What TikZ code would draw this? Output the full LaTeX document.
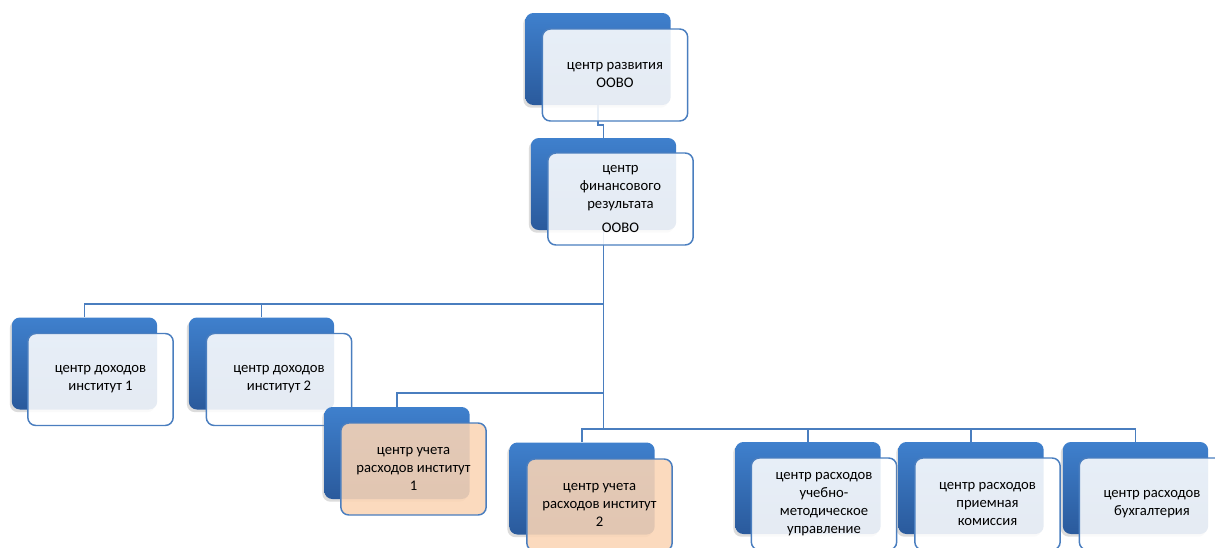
\documentclass[tikz,border=0pt]{standalone}
\usepackage{fontspec}
\setmainfont{Carlito}
\usetikzlibrary{backgrounds,shadows}
\definecolor{boxtop}{HTML}{3F80CD}
\definecolor{boxbot}{HTML}{2A5A9C}
\definecolor{edgeblue}{HTML}{4A7EBF}
\definecolor{peach}{HTML}{FBD5B5}
\tikzset{
  back/.style={rectangle, rounded corners=6pt, minimum width=109pt, minimum height=69pt,
    top color=boxtop, bottom color=boxbot, draw=none,
    drop shadow={shadow xshift=-1.5pt, shadow yshift=-2pt, fill=black!45, opacity=0.3}},
  front/.style={rectangle, rounded corners=6pt, minimum width=109pt, minimum height=69pt,
    draw=edgeblue, line width=1.1pt, fill=white, fill opacity=0.88, text opacity=1,
    align=center, font=\fontsize{11}{13.5}\selectfont, inner sep=2pt},
  cost/.style={front, fill=peach},
  conn/.style={draw=edgeblue, line width=1.2pt}
}
\begin{document}
\begin{tikzpicture}[x=0.75pt, y=-0.75pt]
    \useasboundingbox (0,0) rectangle (1215,547);
    \node[back] (razvb) at (598,59) {};
    \node[front] (razv) at (615,75) {центр развития\\ООВО};
    \node[back] (finb) at (603.5,184) {};
    \node[front] (fin) at (620.5,199) {центр\\финансового\\результата\\[4pt]ООВО};
    \node[back] (doh1b) at (84.5,363.5) {};
    \node[front] (doh1) at (100.5,379.5) {центр доходов\\институт 1};
    \node[back] (doh2b) at (261.5,363.5) {};
    \node[front] (doh2) at (279,379.5) {центр доходов\\институт 2};
    \node[back] (uch1b) at (397,453) {};
    \node[cost] (uch1) at (413.5,469) {центр учета\\расходов институт\\1};
    \node[back] (uch2b) at (582,488.5) {};
    \node[cost] (uch2) at (599.5,505) {центр учета\\расходов институт\\2};
    \node[back] (umub) at (808,488) {};
    \node[front] (umu) at (824,504) {центр расходов\\учебно-\\методическое\\управление};
    \node[back] (prkb) at (971,488) {};
    \node[front] (prk) at (987.5,504) {центр расходов\\приемная\\комиссия};
    \node[back] (buhb) at (1135.5,488) {};
    \node[front] (buh) at (1152,504) {центр расходов\\бухгалтерия};
    \coordinate (busA) at (603.5,304);
    \coordinate (busB) at (603.5,393);
    \coordinate (busC) at (603.5,429);
    \begin{scope}[on background layer]
    \draw[conn] (razvb.south) -- ++(0,20) -| (finb.north);
    \draw[conn] (finb.south) -- (busA) -| (doh1b.north);
    \draw[conn] (busA) -| (doh2b.north);
    \draw[conn] (busA) -- (busB) -| (uch1b.north);
    \draw[conn] (busB) -- (busC) -| (uch2b.north);
    \draw[conn] (busC) -| (umub.north);
    \draw[conn] (busC) -| (prkb.north);
    \draw[conn] (busC) -| (buhb.north);
    \end{scope}
\end{tikzpicture}
\end{document}
